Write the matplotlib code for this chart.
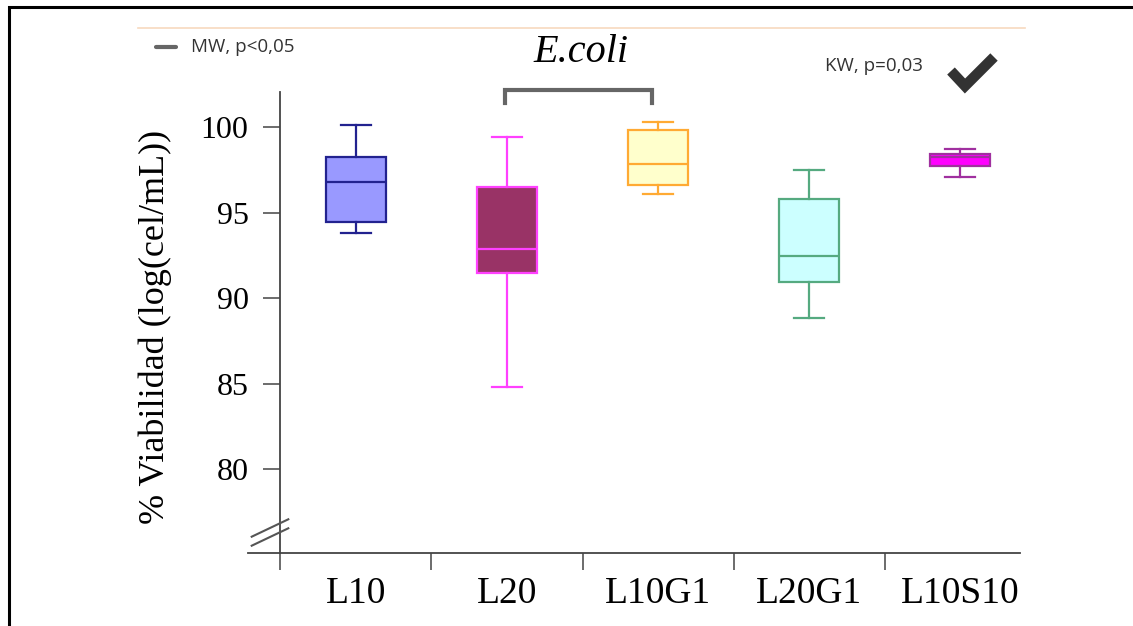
import matplotlib.pyplot as plt
from matplotlib.lines import Line2D

# grupos y estadisticos de caja
grupos = ['L10', 'L20', 'L10G1', 'L20G1', 'L10S10']
bigote_sup = [100.1, 99.4, 100.3, 97.5, 98.7]
q3 = [98.25, 96.5, 99.8, 95.8, 98.45]
mediana = [96.8, 92.9, 97.85, 92.45, 98.25]
q1 = [94.45, 91.45, 96.6, 90.95, 97.75]
bigote_inf = [93.8, 84.8, 96.1, 88.85, 97.1]

relleno = ['#9999ff', '#993366', '#ffffcc', '#ccffff', '#ff00ff']
borde = ['#22228f', '#ff40ff', '#ffaa33', '#55aa80', '#a0309f']

W, H = 1133, 626
fig = plt.figure(figsize=(W / 100, H / 100), dpi=100)
ax = fig.add_axes([248 / W, (H - 553) / H, (1020 - 248) / W, 461 / H])

stats = []
for i, g in enumerate(grupos):
    stats.append(dict(label=g, whislo=bigote_inf[i], q1=q1[i], med=mediana[i],
                      q3=q3[i], whishi=bigote_sup[i], fliers=[]))

pos = list(range(len(grupos)))
bp = ax.bxp(stats, positions=pos, widths=0.4, capwidths=0.2,
            patch_artist=True, showfliers=False)
for i in range(len(grupos)):
    bp['boxes'][i].set(facecolor=relleno[i], edgecolor=borde[i], linewidth=1.6)
    bp['medians'][i].set(color=borde[i], linewidth=1.6)
    for k in (2 * i, 2 * i + 1):
        bp['whiskers'][k].set(color=borde[i], linewidth=1.6)
        bp['caps'][k].set(color=borde[i], linewidth=1.6)

ax.set_xlim(-0.715, 4.397)
ax.set_ylim(75.1, 102.05)

eje = '#444444'
for s in ('top', 'right'):
    ax.spines[s].set_visible(False)
ax.spines['left'].set_position(('data', -0.5))
for s in ('left', 'bottom'):
    ax.spines[s].set_color(eje)
    ax.spines[s].set_linewidth(1.3)

ax.set_yticks([80, 85, 90, 95, 100])
ax.tick_params(axis='y', direction='out', length=12, width=1.1, color=eje,
               pad=11, labelsize=23)
for t in ax.get_yticklabels():
    t.set_fontfamily('Liberation Serif')

ax.set_xticks([p - 0.5 for p in pos])
ax.set_xticklabels([])
ax.set_xticks(pos, minor=True)
ax.set_xticklabels(grupos, minor=True, fontfamily='Liberation Serif', fontsize=27)
ax.tick_params(axis='x', which='major', direction='out', length=12, width=1.1,
               color=eje)
ax.tick_params(axis='x', which='minor', length=0, pad=17)

# marcas de corte del eje y
for dy in (0, 9):
    fig.add_artist(Line2D([251.7 / W, 288.3 / W],
                          [1 - (536.7 + dy) / H, 1 - (519.3 + dy) / H],
                          color='#555555', lw=1.5))

fig.text(155 / W, 1 - 327 / H, '% Viabilidad (log(cel/mL))', rotation=90,
         ha='center', va='center', fontfamily='Liberation Serif', fontsize=26)

# titulo
fig.text(581 / W, 1 - 52 / H, 'E.coli', ha='center', va='center',
         fontfamily='Liberation Serif', style='italic', fontsize=29)

# corchete MW entre L20 y L10G1
ax.plot([0.99, 0.99, 1.96, 1.96], [101.4, 102.16, 102.16, 101.4],
        color='#666666', lw=3, clip_on=False, solid_joinstyle='miter')

# leyenda
fig.add_artist(Line2D([156 / W, 176 / W], [1 - 47 / H] * 2, color='#666666',
                      lw=3, solid_capstyle='round'))
fig.text(191 / W, 1 - 47 / H, 'MW, p<0,05', va='center', ha='left',
         fontfamily='Open Sans', fontsize=13.5, color='#333333')
fig.text(825 / W, 1 - 66 / H, 'KW, p=0,03', va='center', ha='left',
         fontfamily='Open Sans', fontsize=13.5, color='#333333')
# marca de verificacion
fig.add_artist(Line2D([951 / W, 965 / W, 994 / W],
                      [1 - 71 / H, 1 - 86 / H, 1 - 57 / H],
                      color='#333333', lw=7.5, solid_joinstyle='miter',
                      solid_capstyle='butt'))

# linea tenue superior y marco
fig.add_artist(Line2D([138 / W, 1025 / W], [1 - 28 / H] * 2,
                      color='#f7d9bf', lw=1.2))
fig.add_artist(Line2D([8.5 / W, 8.5 / W, 1], [0, 1 - 7 / H, 1 - 7 / H],
                      color='black', lw=2.2, solid_joinstyle='miter'))

fig.savefig('out.png', dpi=100)
